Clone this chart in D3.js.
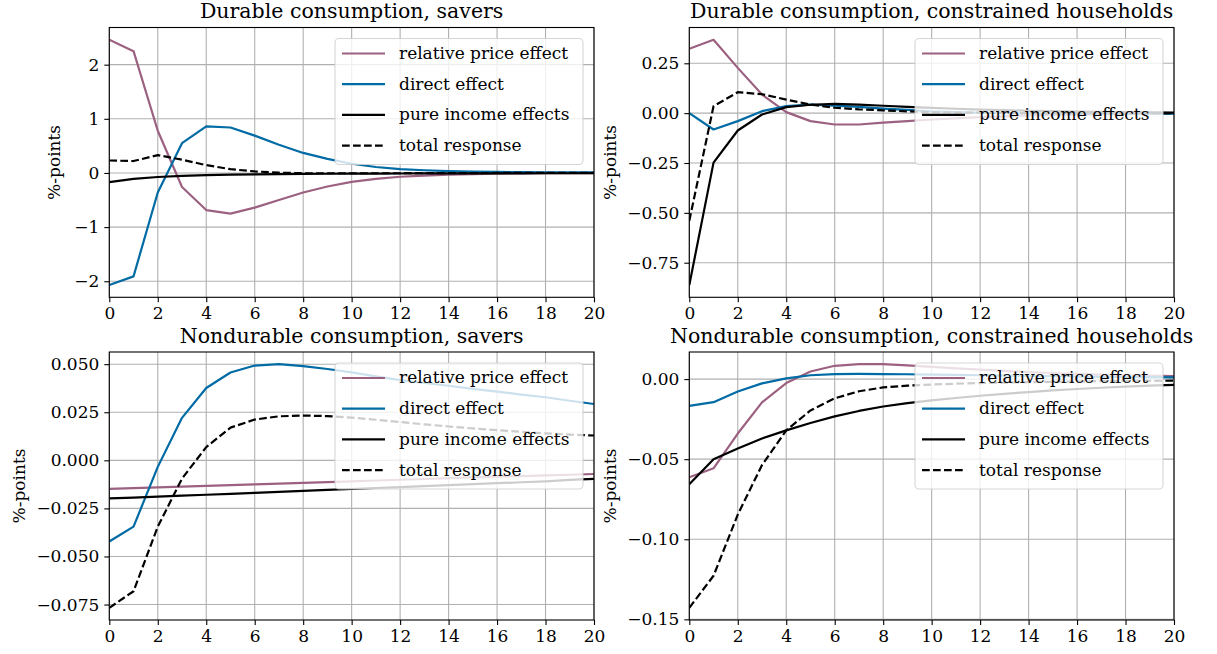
<!DOCTYPE html>
<html>
<head>
<meta charset="utf-8">
<script src="https://cdn.jsdelivr.net/npm/d3@7"></script>
<style>
  html, body { margin: 0; padding: 0; background: #ffffff; }
  svg { display: block; }
  text { font-family: "DejaVu Serif", serif; fill: #000; }
</style>
</head>
<body>
<svg id="chart" width="1217" height="654"></svg>
<script>
// ---------------- data ----------------
const horizon = [0,1,2,3,4,5,6,7,8,9,10,11,12,13,14,15,16,17,18,19,20];
const seriesNames = ["relative price effect", "direct effect", "pure income effects", "total response"];
const panelTitles = [
  "Durable consumption, savers",
  "Durable consumption, constrained households",
  "Nondurable consumption, savers",
  "Nondurable consumption, constrained households"
];
const yAxisLabel = "%-points";
const xTicks = [0,2,4,6,8,10,12,14,16,18,20];

// Durable consumption, savers
const durSavRelPrice = [2.46, 2.25, 0.78, -0.26, -0.685, -0.75, -0.64, -0.50, -0.36, -0.25, -0.165, -0.11, -0.07, -0.05, -0.03, -0.02, -0.012, -0.008, -0.005, -0.003, -0.002];
const durSavDirect   = [-2.07, -1.91, -0.36, 0.55, 0.86, 0.84, 0.69, 0.52, 0.37, 0.26, 0.17, 0.11, 0.07, 0.05, 0.035, 0.025, 0.02, 0.015, 0.012, 0.01, 0.01];
const durSavIncome   = [-0.17, -0.11, -0.075, -0.055, -0.04, -0.032, -0.026, -0.021, -0.018, -0.015, -0.013, -0.011, -0.01, -0.009, -0.008, -0.007, -0.006, -0.006, -0.005, -0.005, -0.004];
const durSavTotal    = [0.23, 0.22, 0.33, 0.245, 0.145, 0.07, 0.028, 0.005, -0.005, -0.005, -0.005, -0.005, -0.005, -0.004, -0.003, -0.002, 0.0, 0.0, 0.0, 0.0, 0.0];
const durSavTicks    = [-2, -1, 0, 1, 2];

// Durable consumption, constrained households
const durConRelPrice = [0.323, 0.368, 0.227, 0.093, 0.005, -0.04, -0.057, -0.057, -0.048, -0.04, -0.032, -0.026, -0.02, -0.016, -0.012, -0.009, -0.007, -0.005, -0.004, -0.003, -0.002];
const durConDirect   = [0.0, -0.082, -0.04, 0.01, 0.035, 0.043, 0.038, 0.031, 0.023, 0.016, 0.009, 0.005, 0.002, 0.0, -0.001, -0.002, -0.002, -0.003, -0.003, -0.003, -0.003];
const durConIncome   = [-0.862, -0.248, -0.087, -0.007, 0.03, 0.042, 0.046, 0.043, 0.037, 0.031, 0.026, 0.022, 0.018, 0.015, 0.012, 0.01, 0.008, 0.006, 0.005, 0.004, 0.003];
const durConTotal    = [-0.54, 0.035, 0.105, 0.095, 0.068, 0.043, 0.027, 0.019, 0.014, 0.009, 0.005, 0.003, 0.002, 0.001, 0.0, 0.0, 0.0, 0.0, 0.0, 0.0, 0.0];
const durConTicks    = [-0.75, -0.5, -0.25, 0, 0.25];

// Nondurable consumption, savers
const ndSavRelPrice = [-0.0148, -0.0145, -0.0141, -0.0137, -0.0133, -0.0129, -0.0125, -0.0121, -0.0117, -0.0113, -0.0109, -0.0105, -0.0101, -0.0097, -0.0093, -0.0089, -0.0085, -0.0082, -0.0078, -0.0075, -0.0071];
const ndSavDirect   = [-0.0422, -0.0345, -0.0034, 0.0221, 0.0376, 0.0457, 0.0493, 0.0500, 0.0490, 0.0475, 0.0457, 0.0437, 0.0417, 0.0402, 0.0388, 0.0372, 0.0357, 0.0342, 0.0328, 0.0310, 0.0293];
const ndSavIncome   = [-0.0198, -0.0194, -0.0189, -0.0184, -0.0179, -0.0174, -0.0169, -0.0164, -0.0159, -0.0154, -0.0149, -0.0144, -0.0139, -0.0134, -0.0129, -0.0124, -0.0119, -0.0114, -0.0109, -0.0102, -0.0096];
const ndSavTotal    = [-0.0767, -0.0681, -0.0345, -0.0095, 0.0069, 0.0170, 0.0212, 0.0229, 0.0233, 0.0230, 0.0222, 0.0211, 0.0199, 0.0187, 0.0176, 0.0166, 0.0157, 0.0148, 0.0140, 0.0134, 0.0129];
const ndSavTicks    = [-0.075, -0.05, -0.025, 0, 0.025, 0.05];

// Nondurable consumption, constrained households
const ndConRelPrice = [-0.0613, -0.0557, -0.034, -0.0145, -0.0025, 0.0047, 0.0083, 0.0093, 0.0093, 0.0085, 0.0076, 0.0067, 0.0059, 0.0051, 0.0044, 0.0038, 0.0033, 0.0028, 0.0024, 0.0021, 0.0018];
const ndConDirect   = [-0.0167, -0.0144, -0.0078, -0.0027, 0.0004, 0.0024, 0.0031, 0.0032, 0.0031, 0.003, 0.0028, 0.0026, 0.0024, 0.0022, 0.002, 0.0018, 0.0016, 0.0014, 0.0013, 0.0012, 0.0011];
const ndConIncome   = [-0.0656, -0.050, -0.0433, -0.0371, -0.032, -0.0274, -0.0233, -0.0199, -0.0171, -0.0150, -0.0133, -0.0118, -0.0104, -0.0092, -0.0081, -0.0071, -0.0062, -0.0054, -0.0047, -0.0041, -0.0036];
const ndConTotal    = [-0.1428, -0.1228, -0.0846, -0.0537, -0.032, -0.0196, -0.012, -0.0076, -0.0052, -0.0041, -0.0034, -0.0029, -0.0025, -0.0022, -0.0019, -0.0017, -0.0015, -0.0013, -0.0012, -0.0011, -0.001];
const ndConTicks    = [-0.15, -0.1, -0.05, 0];

// ---------------- styling / layout ----------------
const seriesStyle = [
  { color: "#9c6181", dash: null },
  { color: "#006ba4", dash: null },
  { color: "#000000", dash: null },
  { color: "#000000", dash: "7.7,3.3" }
];

const panels = [
  { title: panelTitles[0], series: [durSavRelPrice, durSavDirect, durSavIncome, durSavTotal], ticks: durSavTicks, fmt: d3.format("d"),
    left: 109.3, right: 594, top: 27.5, bottom: 297.3, labelX: 54 },
  { title: panelTitles[1], series: [durConRelPrice, durConDirect, durConIncome, durConTotal], ticks: durConTicks, fmt: d3.format(".2f"),
    left: 689.3, right: 1174, top: 27.5, bottom: 297.3, labelX: 610 },
  { title: panelTitles[2], series: [ndSavRelPrice, ndSavDirect, ndSavIncome, ndSavTotal], ticks: ndSavTicks, fmt: d3.format(".3f"),
    left: 109.3, right: 594, top: 352, bottom: 620, labelX: 19.5 },
  { title: panelTitles[3], series: [ndConRelPrice, ndConDirect, ndConIncome, ndConTotal], ticks: ndConTicks, fmt: d3.format(".2f"),
    left: 689.3, right: 1174, top: 352, bottom: 620, labelX: 610 }
];

const svg = d3.select("#chart");

panels.forEach((p, pi) => {
  const g = svg.append("g");
  const w = p.right - p.left, h = p.bottom - p.top;

  // matplotlib-like auto limits (5% margin) on y, x fixed to [0, 20]
  const all = p.series.flat();
  const mn = d3.min(all), mx = d3.max(all);
  const m = (mx - mn) * 0.05;
  const x = d3.scaleLinear().domain([0, 20]).range([p.left, p.right]);
  const y = d3.scaleLinear().domain([mn - m, mx + m]).range([p.bottom, p.top]);

  const clipId = "clip" + pi;
  svg.append("defs").append("clipPath").attr("id", clipId)
    .append("rect").attr("x", p.left).attr("y", p.top).attr("width", w).attr("height", h);

  // grid
  g.append("g").selectAll("line.gx").data(xTicks).join("line")
    .attr("x1", d => x(d)).attr("x2", d => x(d)).attr("y1", p.top).attr("y2", p.bottom)
    .attr("stroke", "#b0b0b0").attr("stroke-width", 1.1);
  g.append("g").selectAll("line.gy").data(p.ticks).join("line")
    .attr("x1", p.left).attr("x2", p.right).attr("y1", d => y(d)).attr("y2", d => y(d))
    .attr("stroke", "#b0b0b0").attr("stroke-width", 1.1);

  // lines
  const line = d3.line().x((d, i) => x(horizon[i])).y(d => y(d));
  const lg = g.append("g").attr("clip-path", `url(#${clipId})`);
  p.series.forEach((s, si) => {
    lg.append("path").datum(s)
      .attr("d", line)
      .attr("fill", "none")
      .attr("stroke", seriesStyle[si].color)
      .attr("stroke-width", 2.2)
      .attr("stroke-linejoin", "round")
      .attr("stroke-dasharray", seriesStyle[si].dash);
  });

  // axes
  const yAxis = d3.axisLeft(y).tickValues(p.ticks).tickFormat(p.fmt).tickSize(5).tickPadding(5);
  const xAxis = d3.axisBottom(x).tickValues(xTicks).tickFormat(d3.format("d")).tickSize(5).tickPadding(5);
  const ya = g.append("g").attr("transform", `translate(${p.left},0)`).call(yAxis);
  const xa = g.append("g").attr("transform", `translate(0,${p.bottom})`).call(xAxis);
  [ya, xa].forEach(a => {
    a.select(".domain").remove();
    a.selectAll(".tick line").attr("stroke", "#000").attr("stroke-width", 1.1);
    a.selectAll(".tick text").style("font-family", "'DejaVu Serif', serif").style("font-size", "17px").attr("fill", "#000");
  });

  // frame
  g.append("rect").attr("x", p.left).attr("y", p.top).attr("width", w).attr("height", h)
    .attr("fill", "none").attr("stroke", "#000").attr("stroke-width", 1.1);

  // title
  g.append("text").attr("x", (p.left + p.right) / 2).attr("y", p.top - 9.5)
    .attr("text-anchor", "middle").style("font-size", "20.5px").text(p.title);

  // y label
  g.append("text")
    .attr("transform", `translate(${p.labelX},${(p.top + p.bottom) / 2}) rotate(-90)`)
    .attr("text-anchor", "middle").attr("dy", "0.35em")
    .style("font-size", "17px").text(yAxisLabel);

  // legend
  const lw = 248, lh = 126;
  const lx = p.right - 11 - lw, ly = p.top + 11;
  const leg = g.append("g");
  leg.append("rect").attr("x", lx).attr("y", ly).attr("width", lw).attr("height", lh)
    .attr("rx", 4).attr("ry", 4)
    .attr("fill", "#ffffff").attr("fill-opacity", 0.8)
    .attr("stroke", "#cccccc").attr("stroke-opacity", 0.8).attr("stroke-width", 1.1);
  seriesNames.forEach((name, si) => {
    const yy = ly + 15 + si * 30.7;
    leg.append("line").attr("x1", lx + 7).attr("x2", lx + 50).attr("y1", yy).attr("y2", yy)
      .attr("stroke", seriesStyle[si].color).attr("stroke-width", 2.2)
      .attr("stroke-dasharray", seriesStyle[si].dash);
    leg.append("text").attr("x", lx + 64).attr("y", yy).attr("dy", "0.32em")
      .style("font-size", "17px").text(name);
  });
});
</script>
</body>
</html>
